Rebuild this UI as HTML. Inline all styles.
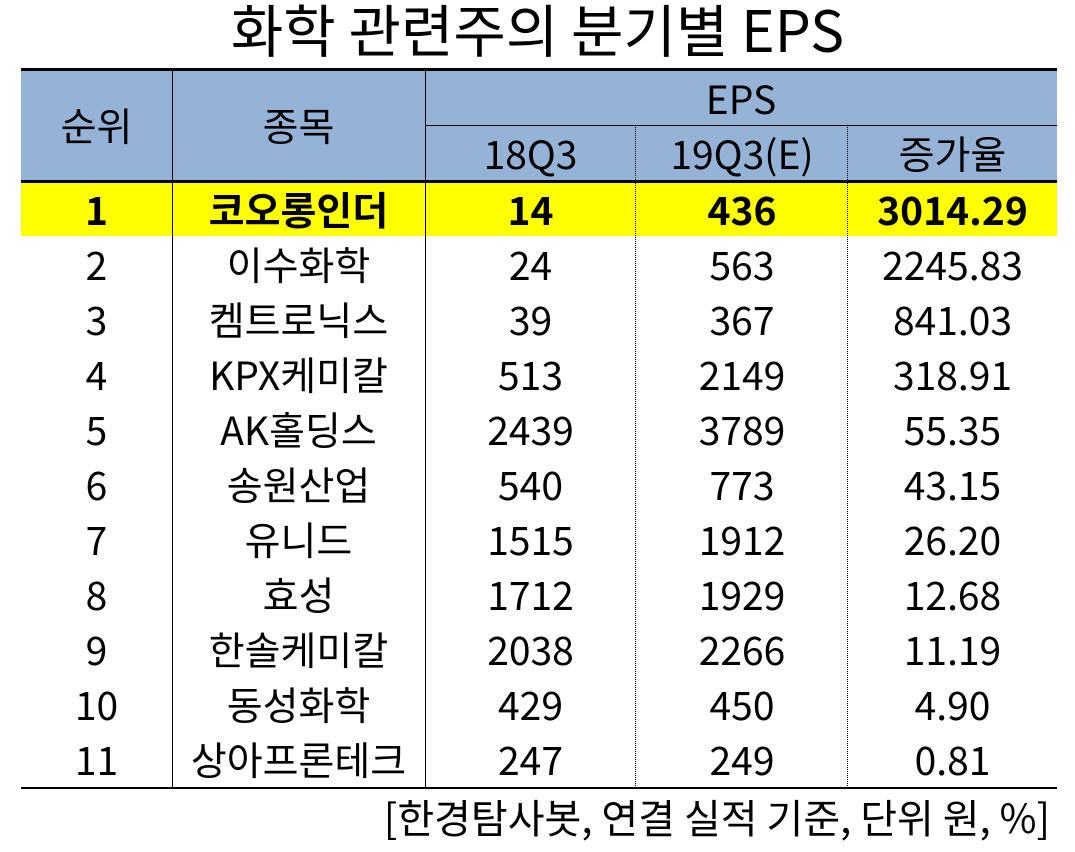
<!DOCTYPE html>
<html><head><meta charset="utf-8"><style>
body{margin:0;width:1075px;height:852px;background:#fff;font-family:"Liberation Sans","Noto Sans CJK KR",sans-serif;color:#000;position:relative;overflow:hidden}
.t{position:absolute;white-space:nowrap;text-align:center;line-height:1}
.ln{position:absolute;background:#000}
</style></head><body>
<div class="t" style="left:0;width:1075px;top:0px;font-size:57px;font-family:'Noto Sans CJK KR',sans-serif">화학 관련주의 분기별 EPS</div>
<div style="position:absolute;left:21px;top:69px;width:1036px;height:112px;background:#95b3d7"></div>
<div style="position:absolute;left:21px;top:181px;width:1036px;height:55px;background:#ffff00"></div>
<div class="ln" style="left:21px;top:68px;width:1036px;height:3px"></div>
<div class="ln" style="left:425px;top:125px;width:632px;height:1px"></div>
<div class="ln" style="left:21px;top:180px;width:1036px;height:3px"></div>
<div class="ln" style="left:21px;top:787px;width:1036px;height:2px"></div>
<div class="ln" style="left:172px;top:69px;width:1px;height:719px"></div>
<div class="ln" style="left:425px;top:69px;width:1px;height:719px"></div>
<div style="position:absolute;left:635px;top:125px;height:663px;border-left:1px dotted #000"></div>
<div style="position:absolute;left:847px;top:125px;height:663px;border-left:1px dotted #000"></div>
<div id="cells"></div>
<div class="t" style="right:25px;top:796px;font-size:40px;font-family:'Noto Sans CJK KR',sans-serif">[한경탐사봇, 연결 실적 기준, 단위 원, %]</div>
<script>
const ranks=["1","2","3","4","5","6","7","8","9","10","11"];
const names=["코오롱인더","이수화학","켐트로닉스","KPX케미칼","AK홀딩스","송원산업","유니드","효성","한솔케미칼","동성화학","상아프론테크"];
const eps18=["14","24","39","513","2439","540","1515","1712","2038","429","247"];
const eps19=["436","563","367","2149","3789","773","1912","1929","2266","450","249"];
const growth=["3014.29","2245.83","841.03","318.91","55.35","43.15","26.20","12.68","11.19","4.90","0.81"];
const cols=[[21,172],[172,425],[425,636],[636,848],[848,1057]];
const c=document.getElementById('cells');
function cell(txt,ci,top,h,bold,name){const d=document.createElement('div');d.className='t';


d.style.left=cols[ci][0]+'px';d.style.width=(cols[ci][1]-cols[ci][0])+'px';
d.style.top=(top+h/2-22)+'px';d.style.fontSize='39px';d.style.height='44px';d.style.lineHeight='44px';
d.style.fontFamily="'Noto Sans CJK KR',sans-serif";
if(bold)d.style.fontWeight='bold';d.textContent=txt;c.appendChild(d);}
cell("순위",0,69,112,false,'header-rank');cell("종목",1,69,112,false,'header-name');
const e=document.createElement('div');e.className='t';


e.style.cssText="left:425px;width:632px;top:76px;font-size:39px;line-height:44px;font-family:'Noto Sans CJK KR',sans-serif";e.textContent="EPS";c.appendChild(e);
cell("18Q3",2,125,56,false,'header-18q3');cell("19Q3(E)",3,125,56,false,'header-19q3');cell("증가율",4,125,56,false,'header-growth');
for(let i=0;i<ranks.length;i++){const top=181+i*55;const b=i===0;
cell(ranks[i],0,top,55,b,'rank-cell');cell(names[i],1,top,55,b,'name-cell');
cell(eps18[i],2,top,55,b,'eps-18q3-cell');cell(eps19[i],3,top,55,b,'eps-19q3-cell');cell(growth[i],4,top,55,b,'growth-cell');}
</script>
</body></html>
